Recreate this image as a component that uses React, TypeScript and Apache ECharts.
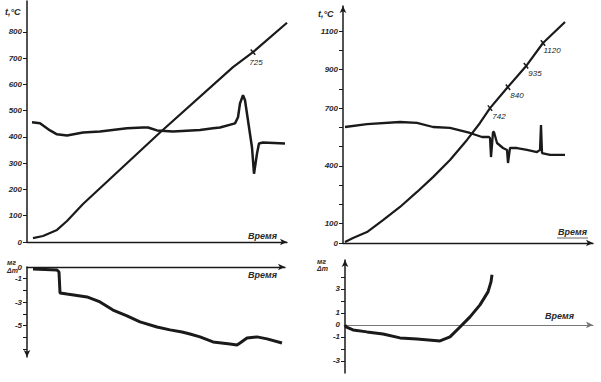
import React, { useEffect, useRef } from "react";
import * as echarts from "echarts";

// Top-left: heating curve and differential curve (time units, °C)
const tlHeating: number[][] = [[6,15],[16,23],[30,46],[40,80],[56,145],[133,417],[206,666],[216,695],[226,723],[260,835]];
const tlDta: number[][] = [[5,456],[13,452],[23,425],[30,410],[40,406],[56,417],[73,421],[100,433],[116,436],[121,436],[130,425],[146,421],[173,427],[186,433],[193,436],[208,452],[211,475],[213,528],[216,559],[218,540],[221,463],[225,360],[227,260],[230,337],[232,375],[236,379],[258,375]];
const tlMarks: { t: number; v: number; label: string }[] = [{ t: 226, v: 723, label: "725" }];
const tlTicks = [0,100,200,300,400,500,600,700,800];

// Top-right
const trHeating: number[][] = [[2,5],[10,26],[24,57],[40,119],[57,187],[74,265],[90,342],[107,431],[124,535],[137,623],[147,700],[164,804],[184,924],[200,1038],[222,1147]];
const trDta: number[][] = [[2,602],[24,617],[57,628],[74,623],[90,602],[107,597],[127,571],[139,550],[146,550],[147,545],[148,446],[149,508],[150,576],[151,576],[154,519],[160,493],[164,483],[165,415],[167,493],[174,493],[184,483],[194,472],[197,483],[198,612],[199,467],[207,457],[222,457]];
const trMarks: { t: number; v: number; label: string }[] = [
  { t: 147, v: 700, label: "742" },
  { t: 165, v: 808, label: "840" },
  { t: 183, v: 920, label: "935" },
  { t: 200, v: 1038, label: "1120" },
];
const trTicks = [0,100,200,300,400,500,600,700,800,900,1000,1100];
const trLabels = [0,100,400,700,900,1100];

// Bottom-left: mass change, mg
const blMass: number[][] = [[6,-0.17],[30,-0.26],[32,-0.43],[33,-2.22],[40,-2.31],[60,-2.56],[73,-2.99],[86,-3.68],[100,-4.19],[113,-4.70],[130,-5.13],[143,-5.38],[155,-5.56],[163,-5.73],[173,-5.98],[186,-6.41],[203,-6.58],[210,-6.67],[213,-6.50],[220,-6.07],[230,-5.98],[240,-6.15],[255,-6.50]];
const blTicks = [-1,-2,-3,-4,-5,-6,-7];
const blLabels = [0,-1,-3,-5];

// Bottom-right
const brMass: number[][] = [[0,0],[1,-0.17],[8,-0.42],[22,-0.58],[38,-0.75],[55,-1.08],[72,-1.17],[95,-1.33],[105,-1.0],[115,-0.17],[125,0.67],[135,1.67],[143,2.75],[146,3.58],[147,4.17]];
const brTicks = [-3,-2,-1,1,2,3,4];
const brLabels = [3,1,0,-1,-3];

const INK = "#1a1a1a";
const FONT = "Liberation Sans";

const labelStyle = {
  fontFamily: FONT,
  fontStyle: "italic" as const,
  fontWeight: "bold" as const,
  fontSize: 8,
  color: "#2a2a2a",
};

function xAx(gridIndex: number, max: number, color = INK, width = 1.3, arrow = true) {
  return {
    type: "value",
    gridIndex,
    min: 0,
    max,
    axisLine: {
      show: true,
      onZero: true,
      lineStyle: { color, width },
      symbol: arrow ? ["none", "arrow"] : ["none", "none"],
      symbolSize: [5, 7],
    },
    axisTick: { show: false },
    axisLabel: { show: false },
    splitLine: { show: false },
  };
}

function yAx(gridIndex: number, min: number, max: number, ticks: number[], labels: number[], symbol: string[]) {
  return {
    type: "value",
    gridIndex,
    min,
    max,
    axisLine: {
      show: true,
      onZero: false,
      lineStyle: { color: INK, width: 1.5 },
      symbol,
      symbolSize: [5, 7],
    },
    axisTick: { show: true, length: 4, customValues: ticks, lineStyle: { color: INK, width: 1 } },
    axisLabel: { show: true, customValues: labels, margin: 5, ...labelStyle, formatter: (v: number) => String(v) },
    splitLine: { show: false },
  };
}

function markData(marks: { t: number; v: number; label: string }[], rot: number, offset: number[]) {
  return {
    symbol: "rect",
    symbolSize: [1.5, 7],
    symbolRotate: rot,
    itemStyle: { color: INK },
    label: {
      show: true,
      position: "inside",
      offset,
      ...labelStyle,
      fontWeight: "normal",
      color: "#222",
      formatter: (p: any) => p.name,
    },
    data: marks.map((m) => ({ name: m.label, coord: [m.t, m.v] })),
  };
}

function line(xi: number, data: number[][], width: number, extra: any = {}) {
  return {
    type: "line",
    xAxisIndex: xi,
    yAxisIndex: xi,
    data,
    showSymbol: false,
    symbol: "none",
    smooth: false,
    lineStyle: { color: INK, width },
    silent: true,
    ...extra,
  };
}

const txt = (x: number, y: number, text: string, size = 9) => ({
  type: "text",
  x,
  y,
  style: { text, fontFamily: FONT, fontStyle: "italic", fontWeight: "bold", fontSize: size, fill: "#2a2a2a" },
});

export default function App() {
  const ref = useRef<HTMLDivElement>(null);
  useEffect(() => {
    if (!ref.current) return;
    const chart = echarts.init(ref.current, null, { renderer: "svg" });
    chart.setOption({
      animation: false,
      backgroundColor: "#ffffff",
      grid: [
        { left: 27, top: 1, width: 260, height: 241 },
        { left: 343, top: 6, width: 250, height: 237 },
        { left: 27, top: 267, width: 258, height: 90 },
        { left: 345, top: 260, width: 248, height: 113 },
      ],
      xAxis: [
        xAx(0, 260),
        xAx(1, 250),
        xAx(2, 258),
        xAx(3, 248, "#777", 1, true),
      ],
      yAxis: [
        yAx(0, 0, 918, tlTicks, tlTicks, ["none", "none"]),
        yAx(1, 0, 1230, trTicks, trLabels, ["none", "arrow"]),
        yAx(2, -7.7, 0, blTicks, blLabels, ["arrow", "none"]),
        yAx(3, -4, 5.4, brTicks, brLabels, ["none", "arrow"]),
      ],
      series: [
        line(0, tlHeating, 2.2, { markPoint: markData(tlMarks, 41, [3, 10]) }),
        line(0, tlDta, 2.5),
        line(1, trHeating, 2.2, { markPoint: markData(trMarks, 38, [9, 8]) }),
        line(1, trDta, 2.3),
        line(2, blMass, 3),
        line(3, brMass, 3),
      ],
      graphic: [
        txt(5, 7, "t,°C"),
        txt(318, 9, "t,°C"),
        txt(248, 231, "Время"),
        txt(558, 227, "Время"),
        { type: "line", shape: { x1: 557, y1: 238, x2: 588, y2: 238 }, style: { stroke: "#444", lineWidth: 0.8 } },
        txt(248, 270, "Время"),
        txt(545, 311, "Время"),
        txt(7, 259, "мг", 7),
        txt(7, 267, "Δm", 7),
        txt(317, 258, "мг", 7),
        txt(317, 265, "Δm", 7),
      ],
    });
    return () => chart.dispose();
  }, []);
  return <div ref={ref} style={{ position: "fixed", left: 0, top: 0, width: 601, height: 382 }} />;
}
